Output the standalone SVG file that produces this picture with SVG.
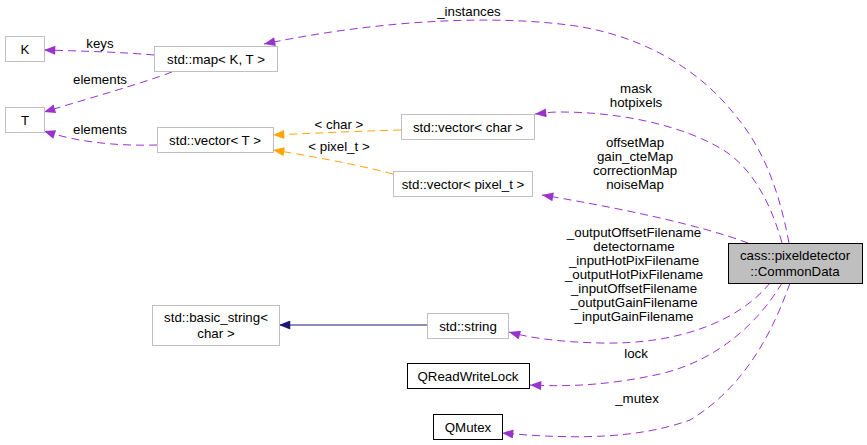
<svg xmlns="http://www.w3.org/2000/svg" width="867" height="445" viewBox="0 0 867 445">
<style>
text{font-family:"Liberation Sans",Arial,sans-serif;font-size:13.3px;fill:#000;text-anchor:middle}
.n{fill:#fff;stroke:#bfbfbf;stroke-width:1}
.b{fill:#fff;stroke:#000;stroke-width:1}
.g{fill:#bfbfbf;stroke:#000;stroke-width:1}
.p{fill:none;stroke:#9a32cd;stroke-width:1;stroke-dasharray:8,5}
.o{fill:none;stroke:#ffa500;stroke-width:1;stroke-dasharray:8,5}
.s{fill:none;stroke:#191970;stroke-width:1}
</style>
<defs>
<marker id="ap" viewBox="0 0 10 8" refX="10" refY="4" markerWidth="13" markerHeight="9" markerUnits="userSpaceOnUse" orient="auto"><path d="M0,0L10,4L0,8z" fill="#9a32cd"/></marker>
<marker id="ao" viewBox="0 0 10 8" refX="10" refY="4" markerWidth="13" markerHeight="9" markerUnits="userSpaceOnUse" orient="auto"><path d="M0,0L10,4L0,8z" fill="#ffa500"/></marker>
<marker id="as" viewBox="0 0 10 8" refX="10" refY="4" markerWidth="13" markerHeight="9" markerUnits="userSpaceOnUse" orient="auto"><path d="M0,0L10,4L0,8z" fill="#191970"/></marker>
</defs>
<rect width="867" height="445" fill="#fff"/>
<g id="edges">
<path class="p" marker-end="url(#ap)" d="M789,243 C780,195 765,150 735,115 C700,70 640,32 560,24 C470,14 360,24 264,44"/>
<path class="p" marker-end="url(#ap)" d="M782,243 C770,200 750,165 720,148 C680,125 620,112 560,112 C550,112 545,113 535,114"/>
<path class="p" marker-end="url(#ap)" d="M748,243 C700,225 620,208 542,195"/>
<path class="p" marker-end="url(#ap)" d="M770,283 C740,320 680,345 600,343 C560,342 530,338 509,332"/>
<path class="p" marker-end="url(#ap)" d="M782,283 C760,320 720,360 660,374 C610,385 570,387 530,385"/>
<path class="p" marker-end="url(#ap)" d="M790,283 C770,340 740,390 690,420 C640,438 580,440 502,433"/>
<path class="p" marker-end="url(#ap)" d="M154,55 C120,52 80,51 44,50"/>
<path class="p" marker-end="url(#ap)" d="M172,72 C140,84 90,98 44,112"/>
<path class="p" marker-end="url(#ap)" d="M157,145 C120,146 80,143 44,131"/>
<path class="o" marker-end="url(#ao)" d="M401,130 C360,131 320,133 273,135"/>
<path class="o" marker-end="url(#ao)" d="M393,174 C370,168 330,159 273,150"/>
<path class="s" marker-end="url(#as)" d="M427,325 L279,325"/>
</g>
<g id="edge-labels">
<text x="469" y="16">_instances</text>
<text x="100" y="48">keys</text>
<text x="100" y="84">elements</text>
<text x="100" y="134">elements</text>
<text x="339" y="129">&lt; char &gt;</text>
<text x="339" y="151">&lt; pixel_t &gt;</text>
<text x="636" y="93">mask</text>
<text x="636" y="107">hotpixels</text>
<text x="635" y="147">offsetMap</text>
<text x="635" y="161">gain_cteMap</text>
<text x="635" y="175">correctionMap</text>
<text x="635" y="189">noiseMap</text>
<text x="634" y="237">_outputOffsetFilename</text>
<text x="634" y="251">detectorname</text>
<text x="634" y="265">_inputHotPixFilename</text>
<text x="634" y="279">_outputHotPixFilename</text>
<text x="634" y="293">_inputOffsetFilename</text>
<text x="634" y="307">_outputGainFilename</text>
<text x="634" y="321">_inputGainFilename</text>
<text x="636" y="358">lock</text>
<text x="637" y="403">_mutex</text>
</g>
<g id="node-K"><rect class="n" x="5.5" y="36.5" width="39" height="25"/><text x="25" y="54">K</text></g>
<g id="node-T"><rect class="n" x="5.5" y="107.5" width="39" height="25"/><text x="25" y="125">T</text></g>
<g id="node-map"><rect class="n" x="154.5" y="46.5" width="123" height="25"/><text x="216" y="64">std::map&lt; K, T &gt;</text></g>
<g id="node-vectorT"><rect class="n" x="157.5" y="127.5" width="116" height="25"/><text x="215" y="145">std::vector&lt; T &gt;</text></g>
<g id="node-vectorchar"><rect class="n" x="401.5" y="114.5" width="133" height="25"/><text x="468" y="132">std::vector&lt; char &gt;</text></g>
<g id="node-vectorpixel"><rect class="n" x="393.5" y="171.5" width="139" height="25"/><text x="463" y="189">std::vector&lt; pixel_t &gt;</text></g>
<g id="node-commondata"><rect class="g" x="728.5" y="243.5" width="134" height="40"/><text x="795" y="260">cass::pixeldetector</text><text x="795" y="276">::CommonData</text></g>
<g id="node-basicstring"><rect class="n" x="152.5" y="305.5" width="127" height="40"/><text x="216" y="322">std::basic_string&lt;</text><text x="216" y="338">char &gt;</text></g>
<g id="node-string"><rect class="n" x="427.5" y="313.5" width="81" height="25"/><text x="468" y="331">std::string</text></g>
<g id="node-qrwlock"><rect class="b" x="407.5" y="363.5" width="122" height="25"/><text x="468" y="381">QReadWriteLock</text></g>
<g id="node-qmutex"><rect class="b" x="433.5" y="414.5" width="69" height="25"/><text x="468" y="432">QMutex</text></g>
</svg>
